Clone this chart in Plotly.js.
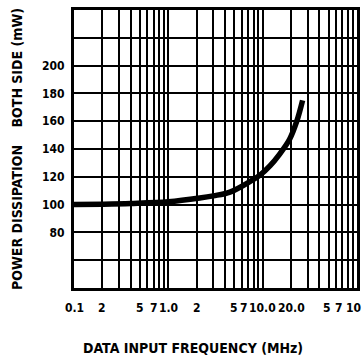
<!DOCTYPE html>
<html><head><meta charset="utf-8">
<script src="https://cdn.plot.ly/plotly-3.0.1.min.js"></script>
<style>html,body{margin:0;padding:0;background:#fff}#chart{width:364px;height:358px}</style>
</head><body><div id="chart"></div>
<script>
// Data input frequency (MHz) and power dissipation (mW)
const freqMHz = [0.1, 0.2, 0.4, 1.0, 2.15, 3.0, 4.5, 7.3, 9.3, 12, 15, 19.3, 23, 26.5];
const powerMW = [100, 100.3, 100.8, 102, 104.7, 106.3, 109, 116.5, 121, 128, 136, 147, 160, 175];

const xTickVals = [0.1,0.2,0.3,0.4,0.5,0.6,0.7,0.8,0.9,1,2,3,4,5,6,7,8,9,10,20,30,40,50,60,70,80,90,100];
const xTickText = ["0.1","2","","","5","","7","","","1.0","2","","","5","","7","","","10.0","20.0","","","5","","7","","","10"];
const yTickVals = [40,60,80,100,120,140,160,180,200,220,240];
const yTickText = ["","","80","100","120","140","160","180","200","",""];
const xTitle = 'DATA INPUT FREQUENCY (MHz)';
const yTitle = 'POWER DISSIPATION\u00A0\u00A0\u00A0\u00A0BOTH SIDE (mW)';

// small horizontal nudges (px) for crowded labels, keyed by tick value
const labelNudge = {7: -4, 50: -2, 70: -3, 100: -4};

const FONT = "'DejaVu Sans Condensed', 'Liberation Sans Narrow', Arial, sans-serif";
const tickFont = {family: FONT, size: 12, color: '#000', weight: 'bold'};

const trace = {
  x: freqMHz, y: powerMW, type: 'scatter', mode: 'lines',
  line: {color: '#000', width: 5.5, shape: 'spline', smoothing: 1},
  hoverinfo: 'skip'
};

// x tick labels placed through the log x axis (annotation x is log10 on log axes)
const annotations = xTickVals.map((v, i) => ({
  x: Math.log10(v), xref: 'x', y: 0, yref: 'paper',
  yanchor: 'top', xanchor: 'center', yshift: -11, xshift: labelNudge[v] || 0,
  text: xTickText[i], showarrow: false, font: tickFont
})).filter(a => a.text !== '');

annotations.push({
  x: 0.42, xref: 'paper', y: 0, yref: 'paper', yanchor: 'middle', xanchor: 'center',
  yshift: -60, text: xTitle, showarrow: false,
  font: {family: FONT, size: 14, color: '#000', weight: 'bold'}
});

const layout = {
  width: 364, height: 358,
  margin: {l: 74, r: 7, t: 10, b: 70},
  paper_bgcolor: '#fff', plot_bgcolor: '#fff',
  showlegend: false,
  font: {family: FONT, color: '#000'},
  annotations: annotations,
  xaxis: {
    type: 'log', range: [-1, 2],
    tickmode: 'array', tickvals: xTickVals, ticktext: xTickText,
    showticklabels: false,
    showgrid: true, gridcolor: '#000', gridwidth: 2,
    showline: true, linecolor: '#000', linewidth: 3, mirror: true,
    ticks: '', zeroline: false
  },
  yaxis: {
    range: [40, 240],
    tickmode: 'array', tickvals: yTickVals, ticktext: yTickText,
    showgrid: true, gridcolor: '#000', gridwidth: 2,
    showline: true, linecolor: '#000', linewidth: 3, mirror: true,
    ticks: '', ticklabelstandoff: 4,
    tickfont: tickFont,
    zeroline: false,
    title: {text: yTitle, standoff: 17,
      font: {family: FONT, size: 14, color: '#000', weight: 'bold'}}
  }
};

Plotly.newPlot('chart', [trace], layout, {staticPlot: true, displayModeBar: false});
</script>
</body></html>
